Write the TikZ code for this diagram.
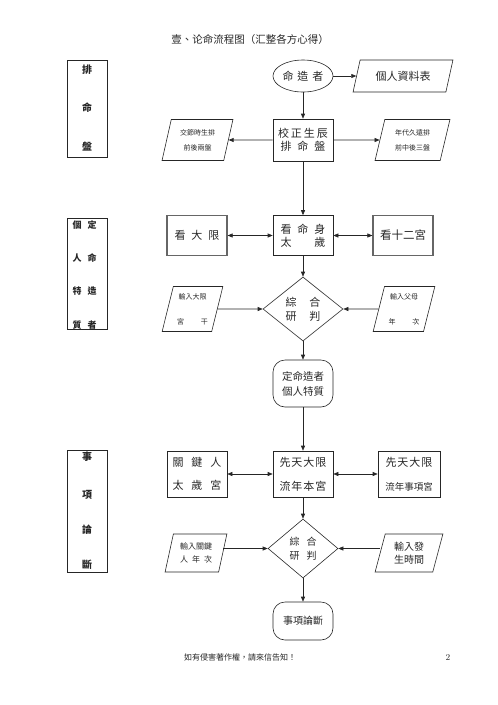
\documentclass[tikz,border=0pt]{standalone}
\usepackage{fontspec}
\newfontfamily\cjk{Noto Sans CJK TC}
\usetikzlibrary{shapes.geometric,arrows.meta}
\newcommand\zg[1]{\hspace*{#1pt}}
\newcommand\fs[2]{\fontsize{#1}{#2}\selectfont}
\begin{document}
\begin{tikzpicture}[x=1pt,y=-1pt,
  every node/.style={inner sep=0pt, align=center, font=\cjk, text=black!85},
  fz/.style 2 args={font=\cjk\fs{#1}{#2}},
  ln/.style={line width=0.6pt, draw=black!85},
  box/.style={ln, rectangle, minimum width=60pt},
  grbox/.style={box, draw=black!60, line width=1.2pt},
  para/.style={ln, trapezium, trapezium left angle=74, trapezium right angle=106, trapezium stretches=true},
  rnd/.style={ln, rectangle, rounded corners=12pt, minimum width=60pt},
  dia/.style={ln, diamond},
  lbox/.style={ln, rectangle, minimum width=40pt},
  lt/.style={font=\cjk\fs{10}{12}\bfseries},
  lt2/.style={font=\cjk\fs{9}{11}\bfseries},
  arr/.style={ln, -{Triangle[length=5pt,width=4pt]}},
  darr/.style={ln, {Triangle[length=5pt,width=4pt]}-{Triangle[length=5pt,width=4pt]}}
]
\useasboundingbox (0,0) rectangle (498,705);

% title and footer
\node[fz={10.5}{12}] (title) at (250,40) {壹、论命流程图（汇整各方心得）};
\node[fz={8}{10}] (foot) at (240,657) {如有侵害著作權，請來信告知！};
\node[font=\fs{9}{10}] (pg) at (448,657) {2};

% left label boxes
\node[lbox, minimum height=97pt] (lb1) at (87,108.5) {};
\node[lt] (l11) at (87,70) {排};
\node[lt] (l12) at (87,108) {命};
\node[lt] (l13) at (87,147) {盤};

\node[lbox, minimum height=111pt] (lb2) at (87,273.5) {};
\node[lt2] (l21) at (77,225) {個};
\node[lt2] (l22) at (92,225) {定};
\node[lt2] (l23) at (77,258) {人};
\node[lt2] (l24) at (92,258) {命};
\node[lt2] (l25) at (77,291) {特};
\node[lt2] (l26) at (92,291) {造};
\node[lt2] (l27) at (77,325) {質};
\node[lt2] (l28) at (92,325) {者};

\node[lbox, minimum height=122pt] (lb3) at (87,511) {};
\node[lt] (l31) at (87,457) {事};
\node[lt] (l32) at (87,495) {項};
\node[lt] (l33) at (87,530) {論};
\node[lt] (l34) at (87,565) {斷};

% section 1
\node[ln, ellipse, minimum width=60pt, minimum height=32pt, fz={11}{13}] (e1) at (303,76) {命\zg{4}造\zg{4}者};
\node[para, trapezium left angle=66, trapezium right angle=114, minimum width=100pt, minimum height=32pt, fz={11}{13}] (p0) at (403,76) {個人資料表};
\node[box, minimum height=42pt, fz={11}{13}] (b1) at (303,140) {校\zg{2}正\zg{2}生\zg{2}辰\\排\zg{6}命\zg{6}盤};
\node[para, minimum width=71pt, minimum height=41pt, fz={7}{15}] (p1) at (197.5,140) {交節時生排\\前後兩盤};
\node[para, minimum width=75pt, minimum height=41pt, fz={7}{15}] (p2) at (412.5,140) {年代久遠排\\前中後三盤};

% section 2
\node[box, minimum height=40pt, fz={11}{13}] (b2) at (303,235.5) {看\zg{6}命\zg{6}身\\太\zg{23}歲};
\node[grbox, minimum height=40pt, fz={11}{13}] (b3) at (197,235.5) {看\zg{6}大\zg{6}限};
\node[grbox, minimum height=40pt, fz={11.5}{13}] (b4) at (403,235.5) {看十二宮};
\node[dia, minimum width=80pt, minimum height=64pt, fz={11}{14}] (d1) at (303,309) {綜\zg{13}合\\研\zg{13}判};
\node[para, minimum width=61pt, minimum height=45pt, fz={7}{25}] (p3) at (192.5,309) {輸入大限\\宮\zg{17}干};
\node[para, minimum width=62pt, minimum height=45pt, fz={7}{25}] (p4) at (404,309) {輸入父母\\年\zg{17}次};
\node[rnd, minimum height=47pt, fz={10.5}{15}] (r1) at (303,383.5) {定命造者\\個人特質};

% section 3
\node[box, minimum height=46pt, fz={11}{24}] (b5) at (303,474) {先\zg{1}天\zg{1}大\zg{1}限\\流\zg{1}年\zg{1}本\zg{1}宮};
\node[box, minimum height=46pt, fz={11}{23}] (b6) at (197,474) {關\zg{8}鍵\zg{8}人\\太\zg{8}歲\zg{8}宮};
\node[box, minimum width=62pt, minimum height=46pt, fz={11}{24}] (b7) at (409,474) {先\zg{1}天\zg{1}大\zg{1}限\\{\fs{9.5}{24}流年事項宮}};
\node[dia, minimum width=70pt, minimum height=59pt, fz={10}{14}] (d2) at (303,548.5) {綜\zg{7}合\\研\zg{7}判};
\node[para, minimum width=62pt, minimum height=38pt, fz={8}{13}] (p5) at (196,553) {輸入關鍵\\人\zg{4}年\zg{4}次};
\node[para, minimum width=68pt, minimum height=38pt, fz={10}{13}] (p6) at (409,553) {輸入發\\生時間};
\node[rnd, minimum height=38pt, fz={10}{12}] (r2) at (303,621) {事項論斷};

% connectors
\draw[arr] (e1) -- (p0);
\draw[arr] (e1) -- (b1);
\draw[arr] (b1) -- (p1);
\draw[arr] (b1) -- (p2);
\draw[arr] (b1) -- (b2);
\draw[darr] (b3) -- (b2);
\draw[darr] (b2) -- (b4);
\draw[arr] (b2) -- (d1);
\draw[arr] (p3) -- (d1);
\draw[arr] (p4) -- (d1);
\draw[arr] (d1) -- (r1);
\draw[arr] (r1) -- (b5);
\draw[darr] (b6) -- (b5);
\draw[darr] (b5) -- (b7);
\draw[arr] (b5) -- (d2);
\draw[arr] (p5.east |- d2) -- (d2);
\draw[arr] (p6.west |- d2) -- (d2);
\draw[arr] (d2) -- (r2);
\end{tikzpicture}
\end{document}
